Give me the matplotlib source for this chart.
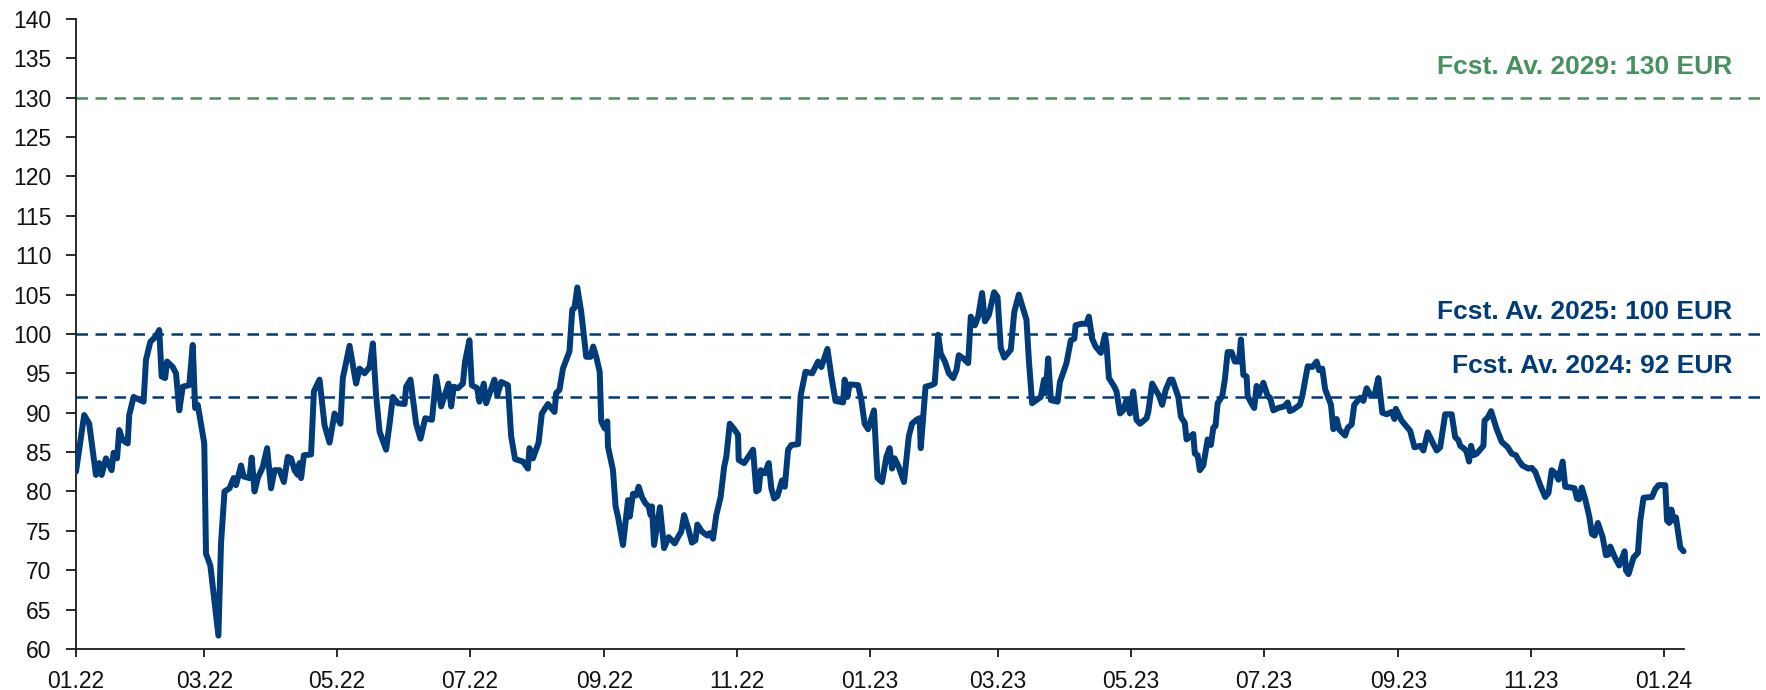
import numpy as np
import pandas as pd
import matplotlib
matplotlib.use("Agg")
import matplotlib.pyplot as plt
import matplotlib.dates as mdates
import matplotlib.transforms as mtransforms

navy = "#003b7a"
green = "#47915f"
axis_col = "#1a1a1a"

plt.rcParams["font.family"] = ["Liberation Sans", "DejaVu Sans"]

start = pd.Timestamp("2022-01-01")

# days since 2022-01-01
days = [
    0, 3.8, 6.1, 9.2, 10.7, 11.8, 13.8, 16.4, 17.3, 18.9, 19.9, 21.5, 23.8, 24.5, 26.5,
    31.1, 32.2, 34.2, 36.8, 38.3, 39.4, 41.0, 41.9, 44.5, 46.0, 47.5, 49.1, 52.1, 53.7,
    54.8, 56.0, 59.0, 59.8, 61.8, 65.5, 66.7, 68.3, 70.6, 72.5, 73.6, 75.9, 77.1, 79.8,
    80.8, 82.1, 83.6, 85.9, 87.9, 89.7, 91.3, 93.6, 95.6, 97.4, 98.9, 100.5, 102.0, 102.8,
    103.5, 104.8, 108.1, 109.4, 112.0, 114.3, 116.6, 118.9, 121.6, 122.7, 125.8, 128.8,
    130.4, 132.7, 135.0, 136.5, 138.0, 139.6, 142.6, 144.2, 145.7, 148.0, 151.1, 151.8,
    153.8, 156.4, 158.4, 160.6, 163.7, 165.6,
    167.9, 171.3, 172.5, 173.7, 175.6, 177.9, 178.9, 180.9, 182.0, 184.5, 185.5, 187.5,
    188.6, 192.4, 193.7, 195.5, 198.6, 200.1, 201.9, 205.5, 207.8, 208.5, 210.1, 212.7,
    214.2, 217.0, 220.0, 220.8, 222.3, 223.9, 226.9, 228.2, 229.2, 230.5, 232.3, 234.6,
    236.6, 237.8, 239.2, 240.8, 241.5, 243.1, 244.3, 244.6, 246.9, 248.1, 249.2, 251.5,
    253.8, 254.6, 256.1, 257.6, 258.7, 260.2, 261.8, 263.3, 264.2, 264.8, 265.8, 267.3,
    268.5, 270.4, 272.5, 275.3, 276.8, 278.3, 279.6, 281.7, 283.2, 284.8, 285.7, 287.8,
    290.3, 291.4, 292.9, 294.4, 296.4, 298.0, 299.0, 300.6, 302.9, 304.4, 304.7, 307.2,
    311.3, 312.8, 313.9, 314.8, 316.7, 318.5, 319.7, 321.0, 322.5, 324.6, 325.9, 327.4,
    328.9, 332.0, 333.2, 335.4, 338.5, 341.2, 342.7, 345.5, 347.3, 349.2,
    352.7, 353.4, 354.7, 355.7, 359.6, 361.1, 362.6, 364.2, 366.9, 368.5, 370.6, 372.6,
    374.1, 375.2, 376.4, 378.3, 380.7, 382.9, 384.4, 386.4, 387.9, 388.4, 390.6, 393.3,
    394.8, 396.4, 397.6, 399.5, 401.3, 403.3, 404.8, 405.9, 407.9, 410.2, 411.4, 413.3,
    414.8, 416.6, 417.9, 419.7, 422.1, 423.7, 425.2, 426.8, 429.8, 431.4, 433.5, 437.0,
    438.1, 439.6, 443.6, 445.1, 445.8, 447.0, 448.2, 451.3, 452.4, 455.4, 457.4, 459.0,
    459.6, 462.3, 464.6, 465.7, 467.2, 468.8, 471.2, 473.1, 473.8, 474.9, 477.4, 478.4,
    480.0, 481.5, 483.0, 484.6, 486.1, 487.6, 489.2, 492.2, 493.0, 494.8, 496.4, 497.9,
    499.4, 501.0, 503.0, 504.1, 506.8, 508.0,
    509.8, 510.6, 513.7, 514.4, 515.7, 516.7, 518.3, 520.3, 521.8, 522.9, 523.9, 524.9,
    527.0, 528.2, 529.5, 531.3, 532.8, 534.7, 535.6, 536.7, 538.2, 538.7, 540.2, 541.7,
    542.8, 543.9, 545.9, 547.9, 549.0, 550.5, 552.8, 555.5, 557.1, 558.1, 559.7, 562.7,
    563.8, 566.3, 568.4, 570.4, 571.5, 573.0, 574.3, 575.8, 577.0, 578.1, 579.6, 580.7,
    583.5, 584.7, 586.5, 587.7, 590.4, 591.9, 593.4, 595.0, 597.0, 598.8, 600.6, 602.6,
    604.9, 606.2, 606.8, 609.5, 613.4, 615.4, 618.0, 619.5, 621.5, 623.6, 625.6, 627.2,
    629.5, 632.5, 634.1, 635.6, 636.4, 638.4, 639.4, 640.5, 641.4, 642.5, 644.0, 647.1,
    647.6, 649.1, 650.6, 653.2, 655.5, 658.3, 660.1, 662.0, 663.2, 665.0, 667.8, 669.3,
    670.9, 673.2, 675.5, 677.0, 678.5, 680.1, 681.6, 683.5, 684.7, 687.4, 689.0, 690.1,
    691.1, 692.3, 693.9, 695.7, 697.0, 698.2, 699.7, 701.9, 703.4, 704.6, 705.4, 707.4,
    709.5, 710.8, 712.0, 712.6, 713.8, 716.1, 718.1, 719.2, 720.7, 724.6, 726.1, 727.6,
    730.7, 731.5, 732.5, 733.5, 734.5, 735.6, 737.6, 739.1,
]

prices = [
    82.5, 89.7, 88.6, 82.1, 83.6, 82.1, 84.2, 82.7, 84.9, 84.2, 87.8, 86.5, 86.1, 89.7, 92.0,
    91.4, 96.7, 99.0, 99.7, 100.5, 94.6, 94.4, 96.5, 95.8, 95.0, 90.3, 93.3, 93.5, 98.6,
    90.6, 91.0, 86.1, 72.1, 70.6, 61.7, 73.4, 80.0, 80.4, 81.7, 80.8, 83.3, 81.9, 81.7,
    84.3, 80.0, 81.7, 83.1, 85.5, 80.4, 82.7, 82.7, 81.2, 84.4, 84.2, 82.7, 82.1, 83.6,
    81.7, 84.6, 84.7, 92.7, 94.2, 88.4, 86.2, 89.9, 88.6, 94.4, 98.5, 93.7,
    95.6, 95.0, 95.8, 98.8, 92.2, 87.6, 85.3, 88.6, 92.0, 91.2, 91.1, 93.3,
    94.2, 88.6, 86.7, 89.3, 89.1, 94.6,
    90.8, 93.7, 90.8, 93.3, 93.1, 93.7, 96.5, 99.2, 93.5, 93.1, 91.4, 93.7,
    91.2, 94.2, 92.2, 93.9, 93.5, 87.0, 84.1, 83.8, 82.9, 85.5, 84.2, 86.2,
    89.9, 91.1, 90.1, 92.5, 92.9, 95.6, 97.8, 103.1, 103.3, 105.9, 102.8, 97.1,
    97.1, 98.4, 97.1, 95.2, 88.9, 88.0, 88.9, 85.7, 82.7, 78.1, 76.8, 73.2,
    78.9, 76.8, 79.7, 79.5, 80.6, 79.3, 78.5, 78.1, 77.0, 78.1, 73.2, 75.9,
    78.0, 72.8, 74.2, 73.4, 74.2, 74.9, 77.0, 75.1, 73.5, 73.8, 75.8, 74.9,
    74.4, 74.7, 74.0, 77.0, 79.3, 83.1, 84.4, 88.6, 87.8, 87.2, 84.0, 83.6,
    85.3, 80.0, 80.2, 82.7, 82.3, 83.6, 80.4, 79.1, 79.4, 81.4, 80.6, 85.3,
    85.9, 86.0, 92.2, 95.2, 95.0, 96.5, 95.8, 98.1, 94.6, 91.5,
    91.3, 94.2, 92.0, 93.6, 93.5, 91.6, 88.6, 87.9, 90.3, 81.7, 81.2, 84.4,
    85.5, 82.9, 84.2, 83.1, 81.2, 87.0, 88.6, 89.1, 89.3, 85.5, 93.3, 93.5,
    93.7, 99.9, 97.5, 96.5, 95.0, 94.4, 95.4, 97.3, 96.9, 96.3, 102.2, 101.1,
    102.2, 105.2, 101.6, 102.4, 105.3, 104.7, 98.2, 97.0, 98.0, 102.8, 105.0, 101.8,
    96.7, 91.2, 92.0, 94.2, 92.5, 96.9, 91.6, 91.4, 93.9, 96.3, 99.2, 99.4,
    101.1, 101.3, 101.3, 102.2, 99.4, 98.4, 97.6, 99.9, 98.6, 94.4, 93.3, 92.7,
    89.9, 90.3, 91.6, 89.9, 92.7, 89.1, 88.6, 89.3, 90.1, 93.7, 92.9, 92.2,
    91.0, 92.9, 94.2, 94.2, 92.0, 89.5,
    88.7, 86.6, 87.3, 84.8, 84.6, 82.7, 83.3, 86.6, 85.9, 88.1, 88.3, 91.2,
    92.1, 94.2, 97.7, 97.7, 96.5, 96.5, 99.3, 94.8, 94.6, 92.1, 91.3, 90.6,
    93.4, 92.3, 93.8, 92.1, 91.9, 90.3, 90.6, 90.8, 91.3, 90.2, 90.4, 91.0,
    92.1, 95.9, 95.8, 96.5, 95.4, 95.6, 93.0, 91.9, 91.0, 87.9, 89.2, 87.9,
    87.1, 88.1, 88.5, 91.0, 91.9, 91.5, 93.1, 92.3, 92.2, 94.4, 90.0, 89.8,
    90.1, 89.2, 90.5, 89.0, 87.7, 85.6, 85.8, 85.2, 87.5, 86.3, 85.2, 85.6,
    89.8, 89.8, 86.9, 86.5, 85.8, 85.4, 85.0, 83.8, 85.8, 84.6, 84.8, 85.8,
    89.0, 89.4, 90.2, 87.9, 86.3, 85.6, 84.8, 84.6, 84.0, 83.3, 82.9, 83.0,
    82.5, 80.8, 79.3, 79.8, 82.7, 82.3, 81.5, 83.8, 80.6, 80.5, 80.4, 79.1,
    79.0, 80.5, 79.0, 76.9, 74.6, 74.4, 76.0, 74.2, 71.9, 72.0, 73.0, 71.7,
    70.6, 71.5, 72.4, 70.0, 69.5, 71.6, 72.2, 76.3, 79.2, 79.3, 80.3, 80.8,
    80.8, 76.3, 76.0, 77.7, 76.3, 76.7, 72.9, 72.4,
]

forecast_values = [130, 100, 92]
forecast_labels = ["Fcst. Av. 2029: 130 EUR", "Fcst. Av. 2025: 100 EUR", "Fcst. Av. 2024: 92 EUR"]
forecast_colors = [green, navy, navy]
label_offsets = [3.9, 2.8, 3.9]

dates = start + pd.to_timedelta(days, unit="D")

fig = plt.figure(figsize=(17.66, 6.90), dpi=100)
ax = fig.add_axes([0.043, 0.0595, 0.957, 0.913])

for val, lab, col, off in zip(forecast_values, forecast_labels, forecast_colors, label_offsets):
    ax.axhline(val, color=col, lw=1.8, linestyle=(0, (4.6, 3.0)), zorder=2)
    ax.text(0.980, val + off, lab, transform=mtransforms.blended_transform_factory(ax.transAxes, ax.transData),
            ha="right", va="center", color=col, fontsize=19, fontweight="bold")

ax.plot(dates, prices, color=navy, lw=4.3, solid_joinstyle="round", solid_capstyle="round", zorder=3)

ax.set_ylim(60, 140)
ax.set_yticks(np.arange(60, 141, 5))
ax.set_xlim(start, start + pd.Timedelta(days=777))
ax.xaxis.set_major_locator(mdates.MonthLocator(bymonth=[1, 3, 5, 7, 9, 11]))
ax.xaxis.set_major_formatter(mdates.DateFormatter("%m.%y"))

for s in ["top", "right"]:
    ax.spines[s].set_visible(False)
for s in ["left", "bottom"]:
    ax.spines[s].set_color(axis_col)
    ax.spines[s].set_linewidth(1.3)
ax.spines["bottom"].set_bounds(mdates.date2num(start), mdates.date2num(dates[-1]))

ax.tick_params(axis="y", direction="out", length=7.5, width=1.3, color=axis_col, labelsize=16.5, pad=10, labelcolor="#111111")
ax.tick_params(axis="x", direction="out", length=6, width=1.3, color=axis_col, labelsize=16.5, pad=9, labelcolor="#111111")

fig.savefig("out.png", dpi=100)
